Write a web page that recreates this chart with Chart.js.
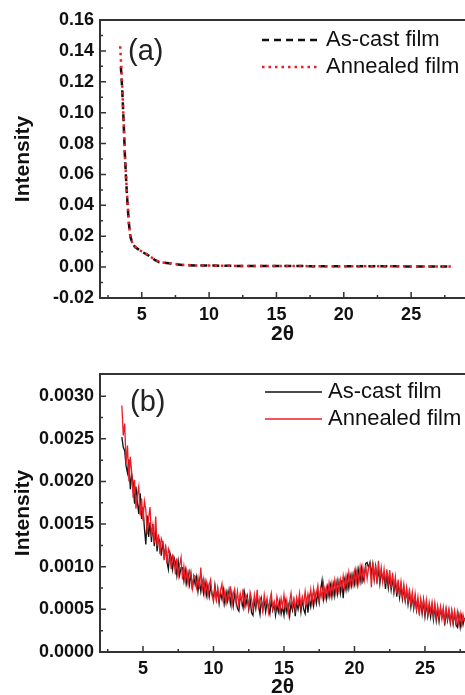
<!DOCTYPE html>
<html>
<head>
<meta charset="utf-8">
<script src="https://cdn.jsdelivr.net/npm/chart.js@4.4.1/dist/chart.umd.min.js"></script>
<style>
  html, body { margin: 0; padding: 0; background: #fff; }
  #wrap { position: relative; width: 465px; height: 695px; overflow: hidden; }
  canvas { position: absolute; left: 0; }
  #chartA { top: 0; }
  #chartB { top: 350px; }
</style>
</head>
<body>
<div id="wrap">
  <canvas id="chartA" width="465" height="345"></canvas>
  <canvas id="chartB" width="465" height="345"></canvas>
</div>
<script>
// ---- panel (a): full range ----
const A_CAST_X = [3.45, 3.55, 3.65, 3.75, 3.85, 3.95, 4.05, 4.15, 4.3, 4.5, 4.75, 5.0, 5.5, 6.0, 6.3, 6.7, 7.0, 7.5, 8, 9, 10, 11, 12, 14, 16, 18, 20, 22, 24, 26, 28];
const A_CAST_Y = [0.130, 0.115, 0.095, 0.072, 0.055, 0.040, 0.028, 0.020, 0.0155, 0.0130, 0.0115, 0.0100, 0.0075, 0.0045, 0.0032, 0.0028, 0.0025, 0.0020, 0.0014, 0.0011, 0.0010, 0.0009, 0.0008, 0.0007, 0.0007, 0.0006, 0.0006, 0.0005, 0.0005, 0.0004, 0.0004];
const A_ANN_X = [3.4, 3.55, 3.65, 3.75, 3.85, 3.95, 4.05, 4.15, 4.3, 4.5, 4.75, 5.0, 5.5, 6.0, 6.3, 6.7, 7.0, 7.5, 8, 9, 10, 11, 12, 14, 16, 18, 20, 22, 24, 26, 28];
const A_ANN_Y = [0.143, 0.117, 0.096, 0.073, 0.056, 0.041, 0.028, 0.020, 0.0155, 0.0132, 0.0116, 0.0101, 0.0076, 0.0046, 0.0033, 0.0028, 0.0025, 0.0020, 0.0015, 0.0011, 0.0010, 0.0009, 0.0008, 0.0007, 0.0007, 0.0006, 0.0006, 0.0005, 0.0005, 0.0004, 0.0004];
const A_X_TICKS = [5, 10, 15, 20, 25];
const A_X_MINOR = [2.5, 7.5, 12.5, 17.5, 22.5, 27.5];
const A_Y_TICKS = [-0.02, 0, 0.02, 0.04, 0.06, 0.08, 0.10, 0.12, 0.14, 0.16];
const A_Y_MINOR = [-0.01, 0.01, 0.03, 0.05, 0.07, 0.09, 0.11, 0.13, 0.15];

// ---- panel (b): zoomed, sampled every 0.1 deg from 3.5, values in units of 1e-4 ----
const B_X0 = 3.5;
const B_DX = 0.1;
const B_UNIT = 1e-4;
const B_CAST = [
  25.2, 24.0, 23.6, 21.8, 21.0,
  22.6, 19.1, 20.8, 19.9, 17.4, 19.4, 17.6, 16.2, 18.6, 15.6,
  17.0, 14.5, 12.6, 16.0, 13.5, 15.2, 12.9, 15.0, 12.4, 14.3,
  11.8, 13.4, 12.9, 11.3, 13.0, 11.2, 12.2, 10.6, 9.7, 11.7,
  11.1, 9.7, 11.1, 10.5, 9.0, 10.6, 9.0, 9.9, 9.9, 8.4,
  9.6, 8.1, 9.2, 7.9, 9.2, 7.3, 8.8, 7.9, 8.8, 7.1,
  8.4, 7.1, 8.2, 6.9, 8.2, 6.7, 7.8, 6.5, 7.7, 6.8,
  6.3, 7.8, 6.2, 7.3, 5.7, 7.0, 6.2, 7.3, 5.7, 7.0,
  6.0, 7.2, 5.7, 6.9, 5.4, 6.8, 6.0, 5.1, 4.8, 6.6,
  6.0, 5.2, 6.9, 5.5, 6.5, 5.0, 6.2, 4.6, 4.3, 6.1,
  5.1, 6.5, 5.4, 4.4, 6.2, 5.0, 6.1, 4.7, 5.9, 5.3,
  4.5, 6.1, 4.9, 5.7, 4.3, 5.5, 4.7, 5.9, 4.5, 5.3,
  4.3, 5.9, 4.7, 5.5, 4.2, 5.7, 4.9, 6.0, 4.2, 5.8,
  5.0, 6.1, 4.7, 6.2, 5.0, 4.5, 6.3, 4.6, 6.4, 5.3,
  6.5, 5.4, 6.8, 5.7, 7.0, 5.8, 7.3, 8.4, 6.2, 7.3,
  6.2, 7.6, 6.5, 7.8, 6.5, 7.9, 6.6, 8.1, 6.8, 8.2,
  6.9, 8.4, 6.3, 8.4, 7.3, 8.8, 7.5, 8.9, 7.8, 9.1,
  8.0, 9.5, 8.0, 9.6, 8.3, 9.8, 8.3, 8.9, 10.4, 10.5,
  9.9, 10.5, 9.1, 10.3, 8.5, 10.0, 8.4, 9.7, 8.0, 9.5,
  8.4, 9.1, 7.4, 9.1, 7.5, 8.8, 7.3, 8.7, 7.0, 8.4,
  6.5, 8.1, 6.4, 7.8, 6.2, 7.5, 6.0, 7.3, 5.6, 7.0,
  5.3, 6.6, 5.1, 6.4, 4.9, 6.0, 4.7, 6.0, 4.5, 6.0,
  4.2, 5.7, 4.2, 5.4, 4.1, 5.4, 3.8, 5.3, 3.7, 5.0,
  3.6, 5.1, 4.1, 5.0, 3.1, 4.9, 3.7, 4.8, 3.4, 4.7,
  3.3, 4.6, 3.2, 2.9, 4.3, 2.9, 4.2, 3.2, 4.0
];
const B_ANN = [
  28.9, 25.4, 26.8, 22.1, 24.2,
  20.0, 22.9, 21.0, 18.1, 20.2, 16.8, 18.4, 19.4, 16.0, 18.0,
  15.4, 17.7, 16.7, 13.8, 15.7, 17.0, 13.5, 14.8, 12.8, 15.9,
  12.4, 13.8, 11.5, 13.3, 12.8, 10.8, 12.6, 10.4, 12.1, 11.5,
  9.7, 11.3, 10.9, 9.1, 11.0, 9.0, 10.2, 11.1, 8.5, 10.0,
  8.2, 9.5, 8.0, 9.5, 9.0, 7.5, 9.0, 8.9, 7.6, 8.7,
  7.4, 9.9, 7.4, 8.5, 6.8, 8.1, 6.6, 7.9, 8.5, 6.6,
  5.9, 7.6, 6.2, 7.5, 6.1, 7.2, 8.0, 5.9, 7.1, 5.8,
  7.0, 6.2, 7.7, 5.5, 6.8, 7.4, 5.8, 7.1, 5.5, 6.8,
  5.8, 7.4, 5.5, 6.7, 6.3, 5.2, 7.0, 6.2, 5.1, 6.7,
  5.5, 7.3, 5.0, 6.4, 6.0, 4.8, 6.7, 5.5, 6.3, 4.7,
  6.1, 6.9, 5.1, 5.9, 4.9, 6.5, 5.7, 4.7, 6.3, 5.3,
  6.7, 5.1, 6.1, 4.5, 5.9, 6.9, 5.3, 6.2, 5.0, 6.4,
  5.6, 6.9, 5.3, 6.4, 5.6, 7.1, 5.7, 6.8, 5.8, 7.3,
  5.9, 7.4, 6.0, 6.9, 7.8, 6.0, 7.3, 6.4, 8.0, 6.5,
  7.6, 6.6, 8.1, 6.8, 8.1, 6.9, 8.4, 7.1, 8.4, 7.2,
  8.5, 7.4, 8.9, 7.6, 8.9, 7.6, 9.3, 7.9, 9.0, 7.9,
  9.4, 8.1, 9.6, 8.2, 9.9, 8.4, 9.9, 8.5, 10.2, 8.6,
  9.9, 10.3, 7.6, 10.5, 8.7, 10.2, 8.0, 10.7, 8.6, 9.9,
  8.2, 9.7, 8.0, 9.7, 8.1, 9.6, 7.5, 9.3, 7.4, 8.8,
  6.9, 8.5, 6.6, 8.2, 6.6, 7.9, 6.0, 7.5, 5.8, 7.4,
  5.5, 7.0, 5.3, 6.8, 5.1, 6.4, 4.3, 6.2, 4.9, 6.2,
  4.6, 6.1, 4.4, 5.8, 4.7, 5.8, 4.2, 5.7, 4.1, 5.4,
  4.0, 5.3, 3.9, 5.2, 3.6, 5.1, 3.9, 5.0, 3.6, 4.9,
  3.5, 4.8, 3.4, 4.7, 3.3, 4.5, 3.2, 4.4, 3.6
];
const B_X_TICKS = [5, 10, 15, 20, 25];
const B_X_MINOR = [2.5, 7.5, 12.5, 17.5, 22.5, 27.5];
const B_Y_TICKS = [0, 0.0005, 0.0010, 0.0015, 0.0020, 0.0025, 0.0030];
const B_Y_MINOR = [0.00025, 0.00075, 0.00125, 0.00175, 0.00225, 0.00275];

const SERIES_NAMES = ['As-cast film', 'Annealed film'];
const BLACK = '#111111';
const RED = '#ee1c24';
const AXIS = '#333333';
const FONT = 'Arial, "Liberation Sans", sans-serif';

function pts(xs, ys) { return xs.map((x, i) => ({ x: x, y: ys[i] })); }
function gridPts(vals) { return vals.map((v, i) => ({ x: +(B_X0 + i * B_DX).toFixed(2), y: v * B_UNIT })); }

// frame, inward ticks, panel label and legend
const framePlugin = {
  id: 'frame',
  afterDraw(chart, args, o) {
    const { ctx, chartArea: a } = chart;
    const sx = chart.scales.x, sy = chart.scales.y;
    ctx.save();
    ctx.strokeStyle = AXIS;
    ctx.lineWidth = 2;
    ctx.beginPath();
    ctx.moveTo(a.right + 2, a.top);
    ctx.lineTo(a.left, a.top);
    ctx.lineTo(a.left, a.bottom);
    ctx.lineTo(a.right + 2, a.bottom);
    ctx.stroke();
    ctx.lineWidth = 1.5;
    ctx.beginPath();
    o.xMajor.forEach(v => { const p = sx.getPixelForValue(v); ctx.moveTo(p, a.bottom); ctx.lineTo(p, a.bottom - 6); });
    o.xMinor.forEach(v => { const p = sx.getPixelForValue(v); ctx.moveTo(p, a.bottom); ctx.lineTo(p, a.bottom - 3); });
    o.yMajor.forEach(v => { const p = sy.getPixelForValue(v); ctx.moveTo(a.left, p); ctx.lineTo(a.left + 6, p); });
    o.yMinor.forEach(v => { const p = sy.getPixelForValue(v); ctx.moveTo(a.left, p); ctx.lineTo(a.left + 3, p); });
    ctx.stroke();

    // panel label
    ctx.fillStyle = '#222';
    ctx.font = '29px ' + FONT;
    ctx.textBaseline = 'middle';
    ctx.fillText(o.label, o.labelX, o.labelY);

    // legend
    chart.data.datasets.forEach((ds, i) => {
      const y = o.legY + i * o.legGap;
      ctx.save();
      ctx.strokeStyle = ds.borderColor;
      ctx.lineWidth = o.legWidth[i];
      ctx.setLineDash(ds.borderDash || []);
      ctx.beginPath();
      ctx.moveTo(o.legX1, y);
      ctx.lineTo(o.legX2, y);
      ctx.stroke();
      ctx.restore();
      ctx.fillStyle = '#111';
      ctx.font = '22px ' + FONT;
      ctx.textBaseline = 'middle';
      ctx.fillText(ds.label, o.legTX, y);
    });
    ctx.restore();
  }
};

function makeChart(id, datasets, cfg) {
  return new Chart(document.getElementById(id), {
    type: 'line',
    data: { datasets: datasets },
    plugins: [framePlugin],
    options: {
      responsive: false,
      animation: false,
      events: [],
      layout: { padding: { top: cfg.padTop, left: 0, right: 0, bottom: 0 } },
      elements: { point: { radius: 0 }, line: { tension: 0 } },
      plugins: {
        legend: { display: false },
        tooltip: { enabled: false },
        frame: cfg.frame
      },
      scales: {
        x: {
          type: 'linear',
          min: cfg.xMin, max: cfg.xMax,
          afterBuildTicks: s => { s.ticks = cfg.frame.xMajor.map(v => ({ value: v })); },
          afterFit: s => { s.height = cfg.xHeight; },
          grid: { display: false, drawTicks: false },
          border: { display: false },
          ticks: { color: '#111', padding: 6, maxRotation: 0, font: { family: FONT, size: 18, weight: 'bold' }, callback: v => String(v) },
          title: { display: true, text: '2θ', color: '#111', padding: { top: cfg.xTitlePad, bottom: cfg.xTitlePad }, font: { family: FONT, size: 21, weight: 'bold' } }
        },
        y: {
          type: 'linear',
          min: cfg.yMin, max: cfg.yMax,
          afterBuildTicks: s => { s.ticks = cfg.frame.yMajor.map(v => ({ value: v })); },
          afterFit: s => { s.width = 100; },
          grid: { display: false, drawTicks: false },
          border: { display: false },
          ticks: { color: '#111', padding: 6, font: { family: FONT, size: 18, weight: 'bold' }, callback: v => v.toFixed(cfg.yDigits) },
          title: { display: true, text: 'Intensity', color: '#111', padding: { top: 11, bottom: 11 }, font: { family: FONT, size: 21, weight: 'bold' } }
        }
      }
    }
  });
}

makeChart('chartA', [
  { label: SERIES_NAMES[0], data: pts(A_CAST_X, A_CAST_Y), borderColor: BLACK, borderWidth: 2.5, borderDash: [7, 5], order: 1 },
  { label: SERIES_NAMES[1], data: pts(A_ANN_X, A_ANN_Y), borderColor: RED, borderWidth: 2.5, borderDash: [2.5, 4], order: 0 }
], {
  padTop: 20, xHeight: 47, xMin: 1.9, xMax: 29, yMin: -0.02, yMax: 0.16, yDigits: 2, xTitlePad: -2,
  frame: {
    xMajor: A_X_TICKS, xMinor: A_X_MINOR, yMajor: A_Y_TICKS, yMinor: A_Y_MINOR,
    label: '(a)', labelX: 128, labelY: 52,
    legX1: 262, legX2: 320, legTX: 326, legY: 40, legGap: 27, legWidth: [2.5, 2.5]
  }
});

makeChart('chartB', [
  { label: SERIES_NAMES[0], data: gridPts(B_CAST), borderColor: BLACK, borderWidth: 1.3, order: 1 },
  { label: SERIES_NAMES[1], data: gridPts(B_ANN), borderColor: RED, borderWidth: 1.3, order: 0 }
], {
  padTop: 24, xHeight: 43, xMin: 1.95, xMax: 27.84, yMin: 0, yMax: 0.00326, yDigits: 4, xTitlePad: -5,
  frame: {
    xMajor: B_X_TICKS, xMinor: B_X_MINOR, yMajor: B_Y_TICKS, yMinor: B_Y_MINOR,
    label: '(b)', labelX: 130, labelY: 53,
    legX1: 265, legX2: 322, legTX: 328, legY: 42, legGap: 27, legWidth: [1.5, 1.5]
  }
});
</script>
</body>
</html>
